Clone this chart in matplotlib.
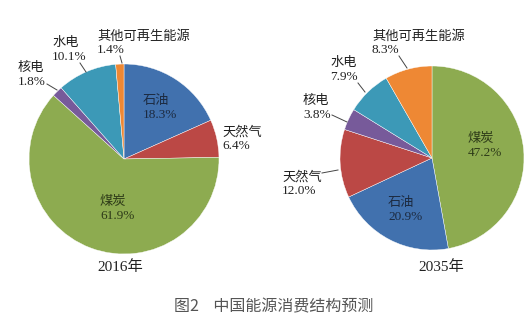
import matplotlib.pyplot as plt

# energy mix, clockwise from 12 o'clock
sources_2016 = ["石油", "天然气", "煤炭", "核电", "水电", "其他可再生能源"]
shares_2016 = [18.3, 6.4, 61.9, 1.8, 10.1, 1.4]
sources_2035 = ["煤炭", "石油", "天然气", "核电", "水电", "其他可再生能源"]
shares_2035 = [47.2, 20.9, 12.0, 3.8, 7.9, 8.3]
years = ["2016年", "2035年"]
caption = "图2    中国能源消费结构预测"

colors = {
    "石油": "#4171ae",
    "天然气": "#bb4845",
    "煤炭": "#8dab50",
    "核电": "#775a9a",
    "水电": "#3c99b7",
    "其他可再生能源": "#ee8834",
}

W, H = 529, 329
FONT = ["Liberation Serif", "Noto Sans CJK SC"]

fig = plt.figure(figsize=(W / 100, H / 100), dpi=100)


def px(x, y):
    return x / W, 1 - y / H


def draw_pie(cx, cy, r, names, vals):
    ax = fig.add_axes([(cx - r) / W, (H - cy - r) / H, 2 * r / W, 2 * r / H])
    ax.pie(vals, colors=[colors[n] for n in names], startangle=90,
           counterclock=False, radius=1,
           wedgeprops=dict(edgecolor="white", linewidth=0.3))
    ax.set_xlim(-1, 1)
    ax.set_ylim(-1, 1)
    ax.axis("off")
    return ax


def label(x, y, name, val, color="#222222"):
    fig.text(*px(x, y), f"{name}\n{val:.1f}%", ha="left", va="center",
             fontsize=9.5, family=FONT, color=color, linespacing=1.15)


def leader(x0, y0, x1, y1):
    fig.add_artist(plt.Line2D([x0 / W, x1 / W], [1 - y0 / H, 1 - y1 / H],
                              color="#444444", lw=0.7))


draw_pie(124, 159, 95, sources_2016, shares_2016)
draw_pie(432, 158, 92, sources_2035, shares_2035)

v16 = dict(zip(sources_2016, shares_2016))
v35 = dict(zip(sources_2035, shares_2035))

# 2016 labels
label(97, 43, "其他可再生能源", v16["其他可再生能源"])
label(52, 50, "水电", v16["水电"])
label(18, 75, "核电", v16["核电"])
label(143, 108, "石油", v16["石油"], "#1c2a40")
label(222, 139, "天然气", v16["天然气"])
label(100, 209, "煤炭", v16["煤炭"], "#2d3a18")
leader(120, 56, 122, 63)
leader(80, 63, 86, 72)
leader(47, 84, 57, 90)

# 2035 labels
label(372, 43, "其他可再生能源", v35["其他可再生能源"])
label(330, 70, "水电", v35["水电"])
label(303, 108, "核电", v35["核电"])
label(282, 184, "天然气", v35["天然气"])
label(388, 210, "石油", v35["石油"], "#1c2a40")
label(468, 146, "煤炭", v35["煤炭"], "#2d3a18")
leader(399, 56, 407, 68)
leader(358, 83, 365, 92)
leader(332, 115, 347, 122)
leader(322, 173, 338, 170)

fig.text(*px(120, 267), years[0], ha="center", va="center", fontsize=11,
         family=FONT, color="#222222")
fig.text(*px(441, 267), years[1], ha="center", va="center", fontsize=11,
         family=FONT, color="#222222")
fig.text(*px(274, 307), caption, ha="center", va="center", fontsize=11.5,
         family=["Noto Sans CJK SC", "DejaVu Sans"], color="#555555")

fig.savefig("out.png", dpi=100, facecolor="white")
